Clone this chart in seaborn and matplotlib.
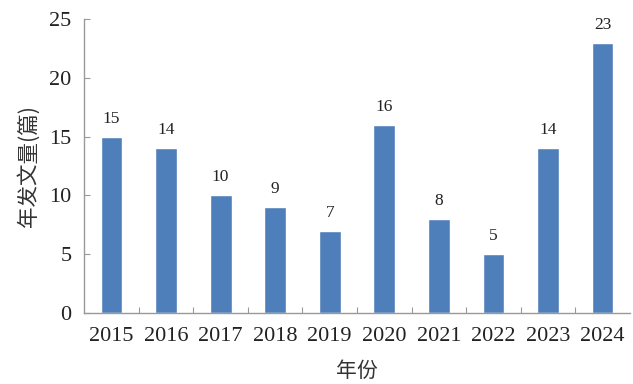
import matplotlib
matplotlib.use("Agg")
import matplotlib.pyplot as plt
import seaborn as sns
import pandas as pd
from matplotlib.ticker import FixedLocator

years = ["2015", "2016", "2017", "2018", "2019", "2020", "2021", "2022", "2023", "2024"]
counts = [15, 14, 10, 9, 7, 16, 8, 5, 14, 23]
yticks = [0, 5, 10, 15, 20, 25]

df = pd.DataFrame({"year": years, "count": counts})

sns.set_theme(style="white")
plt.rcParams["font.family"] = ["Liberation Serif", "Noto Sans CJK SC"]

fig, ax = plt.subplots(figsize=(6.33, 3.84), dpi=100)
fig.subplots_adjust(left=0.133, right=0.995, top=0.95, bottom=0.185)

sns.barplot(data=df, x="year", y="count", color="#4f7fba", width=0.4,
            saturation=1, ax=ax)

for i, v in enumerate(counts):
    ax.text(i, v + 0.85, str(v), ha="center", va="bottom", fontsize=12.5,
            color="#222222")

ax.set_xlim(-0.5, len(years) - 0.5)
ax.set_ylim(0, 25)
ax.set_yticks(yticks)
ax.xaxis.set_minor_locator(FixedLocator([i + 0.5 for i in range(len(years) - 1)]))

for side in ["top", "right"]:
    ax.spines[side].set_visible(False)
for side in ["left", "bottom"]:
    ax.spines[side].set_color("#999999")
    ax.spines[side].set_linewidth(1.0)

ax.tick_params(axis="y", which="major", direction="in", length=4, width=0.8,
               color="#999999", labelsize=16, labelcolor="#222222", pad=9, left=True)
ax.tick_params(axis="x", which="major", length=0, labelsize=16,
               labelcolor="#222222", pad=10)
ax.tick_params(axis="x", which="minor", direction="in", length=4, width=0.8,
               color="#999999", bottom=True)

ax.set_xlabel("年份", fontsize=15, family=["Noto Sans CJK SC"], labelpad=10,
              color="#333333", weight="medium")
ax.set_ylabel("年发文量(篇)", fontsize=15.5, family=["Noto Sans CJK SC"],
              labelpad=7, color="#333333", weight="medium")

fig.savefig("out.png", dpi=100)
